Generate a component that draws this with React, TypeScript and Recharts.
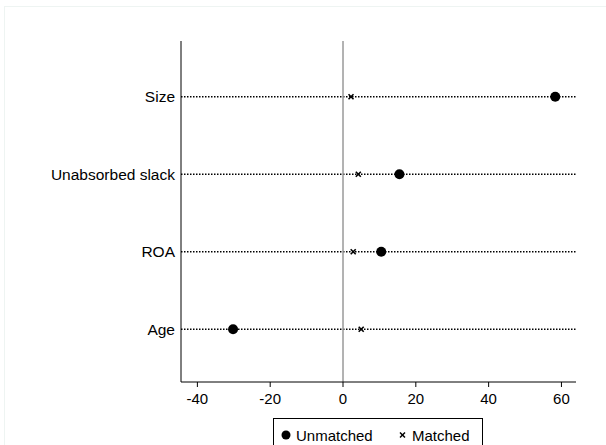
import React from 'react';
import {
  ComposedChart,
  Scatter,
  XAxis,
  YAxis,
  ReferenceLine,
} from 'recharts';

const categories = ['Age', 'ROA', 'Unabsorbed slack', 'Size'];
const unmatched = [-30.2, 10.5, 15.5, 58.3];
const matched = [5.0, 2.8, 4.2, 2.2];
const xTicks = [-40, -20, 0, 20, 40, 60];

const rowPos = categories.map((_, i) => i + 1);
const unmatchedData = categories.map((name, i) => ({ name, y: rowPos[i], x: unmatched[i] }));
const matchedData = categories.map((name, i) => ({ name, y: rowPos[i], x: matched[i] }));

const FONT = '"Liberation Sans", Arial, sans-serif';

const Cross = (props: any) => {
  const { cx, cy } = props;
  if (cx == null || cy == null) return null;
  const s = 2.5;
  return (
    <g stroke="#000" strokeWidth={1.6}>
      <line x1={cx - s} y1={cy - s} x2={cx + s} y2={cy + s} />
      <line x1={cx - s} y1={cy + s} x2={cx + s} y2={cy - s} />
    </g>
  );
};

const Dot = (props: any) => {
  const { cx, cy } = props;
  if (cx == null || cy == null) return null;
  return <circle cx={cx} cy={cy} r={5} fill="#000" />;
};

export default function App() {
  return (
    <div
      style={{
        position: 'absolute',
        left: 0,
        top: 0,
        width: 606,
        height: 445,
        background: '#fff',
        fontFamily: FONT,
        overflow: 'hidden',
      }}
    >
      <div
        style={{
          position: 'absolute',
          left: 4,
          top: 6,
          width: 620,
          height: 460,
          border: '1px solid #eef4f2',
        }}
      />
      <ComposedChart
        width={606}
        height={445}
        margin={{ top: 41, right: 30, bottom: 33, left: 0 }}
        style={{ position: 'absolute', left: 0, top: 0 }}
      >
        <XAxis
          type="number"
          dataKey="x"
          domain={[-44.5, 64]}
          ticks={xTicks}
          allowDataOverflow
          height={30}
          stroke="#000"
          tickSize={5}
          tickMargin={6}
          tick={{ fill: '#000', fontSize: 15, fontFamily: FONT }}
        />
        <YAxis
          type="number"
          dataKey="y"
          domain={[0.32, 4.72]}
          ticks={rowPos}
          allowDataOverflow
          width={181}
          stroke="#000"
          tickLine={false}
          tickSize={4}
          tickFormatter={(v: number) => categories[v - 1] ?? ''}
          tick={{ fill: '#000', fontSize: 15.5, fontFamily: FONT }}
        />
        {rowPos.map((p) => (
          <ReferenceLine
            key={p}
            y={p}
            stroke="#000"
            strokeWidth={1.5}
            strokeDasharray="1.5 1.5"
          />
        ))}
        <ReferenceLine x={0} stroke="#999" strokeWidth={1.5} />
        <Scatter
          data={matchedData}
          shape={<Cross />}
          isAnimationActive={false}
        />
        <Scatter
          data={unmatchedData}
          shape={<Dot />}
          isAnimationActive={false}
        />
      </ComposedChart>
      <div
        style={{
          position: 'absolute',
          left: 273,
          top: 418,
          width: 208,
          height: 40,
          border: '1px solid #000',
          background: '#fff',
          color: '#000',
        }}
      >
        <svg width={208} height={30} style={{ position: 'absolute', left: 0, top: 0 }}>
          <circle cx={12} cy={16} r={4.5} fill="#000" />
          <text x={22} y={21.5} fontSize={15} fontFamily={FONT}>
            Unmatched
          </text>
          <g stroke="#000" strokeWidth={1.5}>
            <line x1={126} y1={13.5} x2={131} y2={18.5} />
            <line x1={126} y1={18.5} x2={131} y2={13.5} />
          </g>
          <text x={138} y={21.5} fontSize={15} fontFamily={FONT}>
            Matched
          </text>
        </svg>
      </div>
    </div>
  );
}
